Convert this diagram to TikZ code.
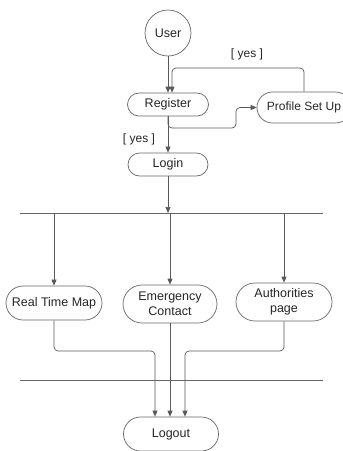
\documentclass[tikz,border=0pt]{standalone}
\usepackage{fontspec}
\setmainfont{Liberation Sans}
\usetikzlibrary{arrows.meta,shapes.misc}
\begin{document}
\begin{tikzpicture}[x=1pt,y=-1pt,
  font=\fontsize{12.5}{15}\selectfont,
  every node/.style={text=black!85},
  act/.style={rounded rectangle, draw=black!60, line width=0.7pt, inner sep=0pt, align=center},
  startnode/.style={circle, draw=black!60, line width=0.7pt, inner sep=0pt},
  flow/.style={draw=black!65, line width=0.7pt, rounded corners=4pt,
    -{Triangle[length=6pt,width=5pt]}},
  bar/.style={draw=black!60, line width=0.9pt},
  guard/.style={font=\fontsize{12}{14}\selectfont}]
\clip (0,0) rectangle (343,451);
\fill[white] (0,0) rectangle (343,451);

% activities
\node[startnode, minimum size=46pt] (user) at (168,33) {User};
\node[act, minimum width=81pt, minimum height=23pt] (reg) at (168,104.5) {Register};
\node[act, minimum width=94pt, minimum height=31pt, font=\fontsize{12}{14}\selectfont] (prof) at (304,107.5) {Profile Set Up};
\node[act, minimum width=80pt, minimum height=23pt] (login) at (168,164.5) {Login};
\node[act, minimum width=96pt, minimum height=34pt] (map) at (54,303) {Real Time Map};
\node[act, minimum width=94pt, minimum height=38pt] (emer) at (170,304) {Emergency\\Contact};
\node[act, minimum width=96pt, minimum height=38pt] (auth) at (284,302) {Authorities\\page};
\node[act, minimum width=95pt, minimum height=34pt] (logout) at (171,434) {Logout};

% fork and join bars
\coordinate (forkL) at (20,213);
\coordinate (forkR) at (323,213);
\coordinate (joinL) at (20,380);
\coordinate (joinR) at (323,380);
\draw[bar] (forkL) -- (forkR);
\draw[bar] (joinL) -- (joinR);

% bend points
\coordinate (loopTop) at (172,68);
\coordinate (regBend) at (236,128);
\coordinate (mapBend) at (155,351);
\coordinate (authBend) at (185,351);

% connectors
\draw[flow] (user.south) -- (user.south |- reg.north);
\draw[flow] (prof.north) |- (loopTop) -- (loopTop |- reg.north);
\node[guard] (yes1) at (247,54) {[ yes ]};
\draw[flow] (reg.south) |- (regBend) |- (prof.west);
\draw[flow] (reg.south) -- (login.north);
\node[guard] (yes2) at (139,139) {[ yes ]};
\draw[flow] (login.south) -- (login.south |- forkL);

\draw[flow] (map.north |- forkL) -- (map.north);
\draw[flow] (emer.north |- forkL) -- (emer.north);
\draw[flow] (auth.north |- forkL) -- (auth.north);

\draw[flow] (map.south) |- (mapBend) -- (mapBend |- logout.north);
\draw[flow] (emer.south) -- (emer.south |- logout.north);
\draw[flow] (auth.south) |- (authBend) -- (authBend |- logout.north);
\end{tikzpicture}
\end{document}
